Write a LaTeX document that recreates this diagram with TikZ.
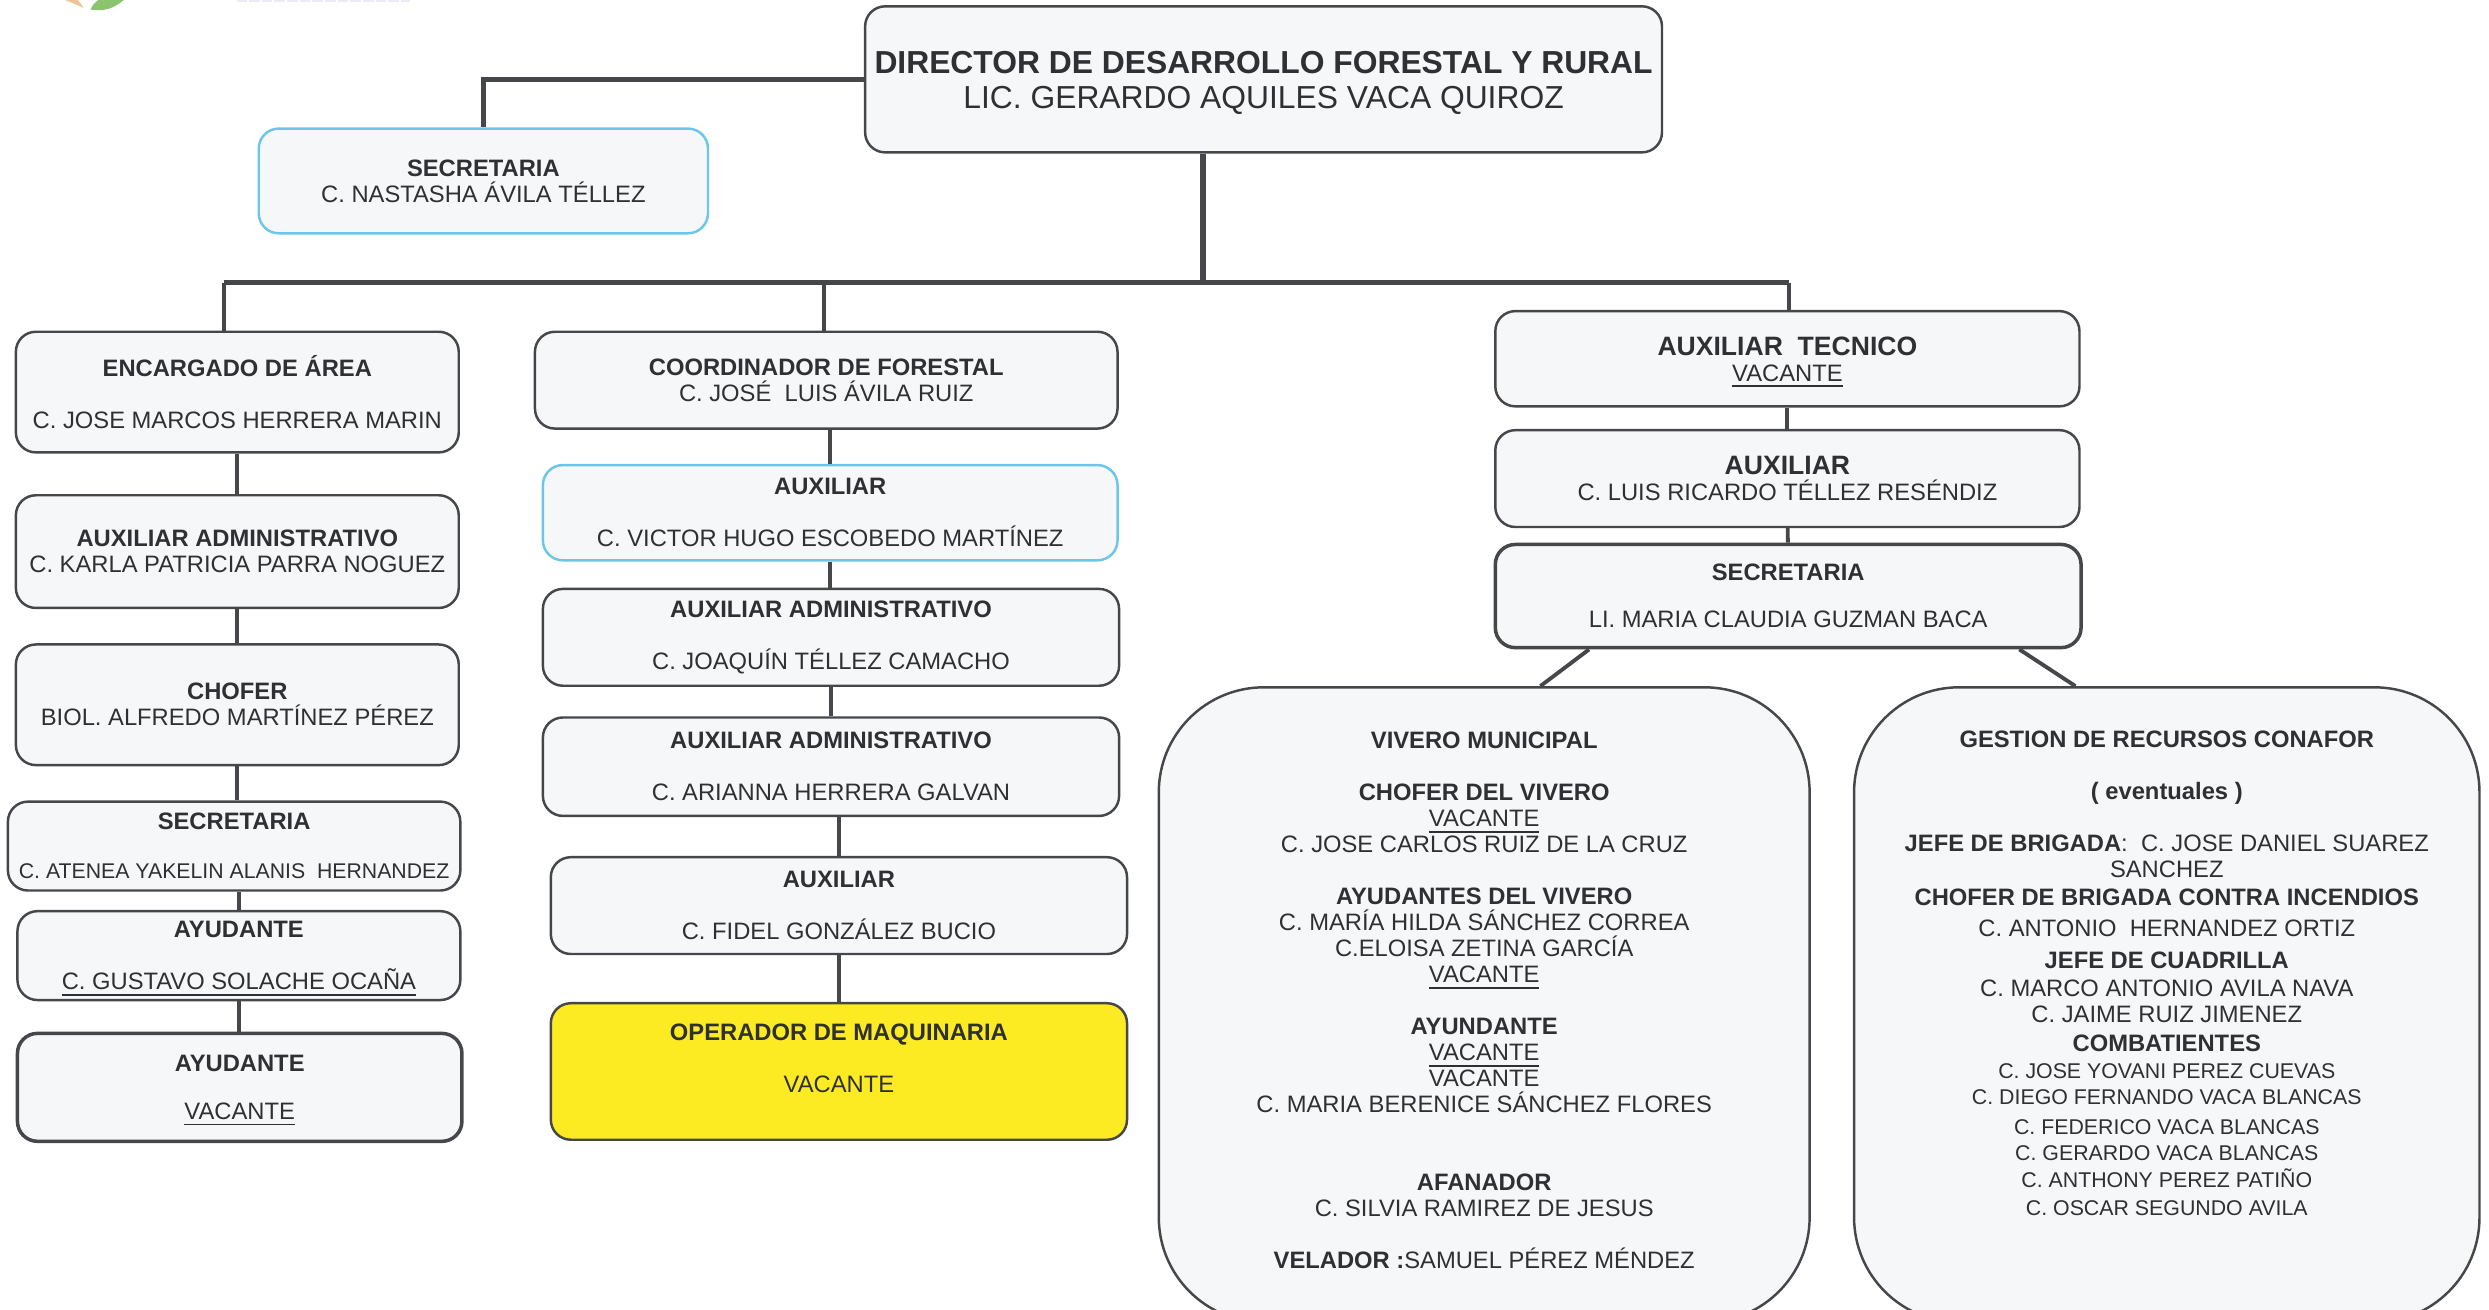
\documentclass[tikz,border=0pt]{standalone}
\usepackage{fontspec}
\setmainfont{Liberation Sans}
\usetikzlibrary{positioning}
\definecolor{inkgrey}{HTML}{2E3033}
\definecolor{linegrey}{HTML}{45474A}
\definecolor{boxgrey}{HTML}{F6F7F9}
\definecolor{skyline}{HTML}{6CC6E8}
\definecolor{vacantyellow}{HTML}{FCEB23}
\definecolor{logoorange}{HTML}{EDC49A}
\definecolor{logogreen}{HTML}{8CC46E}
\definecolor{logotext}{HTML}{ECEAF6}
\newcommand{\vac}[1]{\smash{\underline{#1}}}
\newcommand{\combat}{\fontsize{6.07}{7.4}\selectfont}

\begin{document}
\begin{tikzpicture}
		[x=0.15874mm,y=-0.15874mm,
		org box/.style 2 args={shape=rectangle,rounded corners=2mm,draw=linegrey,line width=.7pt,fill=boxgrey,
			text=inkgrey,align=center,inner sep=0pt,minimum width=#1*0.15874mm,minimum height=#2*0.15874mm,
			font=\fontsize{6.76}{7.4}\selectfont},
		blue box/.style={draw=skyline},
		heavy box/.style={line width=1pt},
		yellow box/.style={fill=vacantyellow},
		panel box/.style={rounded corners=10.5mm},
		conn/.style={draw=linegrey,line width=1.1pt},
		bus/.style={draw=linegrey,line width=1.6pt}]
		\useasboundingbox (0,0) rectangle (1568,825);
		
		% cut off logo
		\fill[logoorange] (41,0) -- (49,0) -- (53,5) -- cycle;
		\fill[logogreen] (57,6) to[bend left=15] (62,0) -- (78,0) to[bend left=25] cycle;
		\draw[logotext,line width=.5pt,dash pattern=on 3pt off .6pt] (149,.5) -- (258,.5);
		
		% top
		\node [org box={502}{92},font=\fontsize{9.05}{9.9}\selectfont] (dir) at (796,50) {\rule{0pt}{8.4pt}\textbf{DIRECTOR DE DESARROLLO FORESTAL Y RURAL}\\LIC. GERARDO AQUILES VACA QUIROZ};
		\node [org box={283}{66},blue box] (sec) at (304.5,114) {\textbf{SECRETARIA}\\C. NASTASHA ÁVILA TÉLLEZ};
		
		% left column
		\node [org box={279}{76}] (enc) at (149.5,247) {\textbf{ENCARGADO DE ÁREA}\\[7.4pt]C. JOSE MARCOS HERRERA MARIN};
		\node [org box={279}{71}] (karla) at (149.5,347.5) {\textbf{AUXILIAR ADMINISTRATIVO}\\C. KARLA PATRICIA PARRA NOGUEZ};
		\node [org box={279}{76}] (chofer) at (149.5,444) {\textbf{CHOFER}\\BIOL. ALFREDO MARTÍNEZ PÉREZ};
		\node [org box={285}{56}] (atenea) at (147.5,533) {\textbf{SECRETARIA}\\[6.5pt]{\fontsize{6.05}{7.4}\selectfont C. ATENEA YAKELIN ALANIS\ \ HERNANDEZ}};
		\node [org box={279}{56}] (gustavo) at (150.5,602) {\textbf{AYUDANTE}\\[7.4pt]\vac{C. GUSTAVO SOLACHE OCAÑA}};
		\node [org box={280}{68},heavy box] (ayuvac) at (151,685) {\textbf{AYUDANTE}\\[6pt]\vac{VACANTE}};
		
		% middle column
		\node [org box={367}{61}] (coord) at (520.5,239.5) {\textbf{COORDINADOR DE FORESTAL}\\C. JOSÉ\ \ LUIS ÁVILA RUIZ};
		\node [org box={362}{60},blue box] (victor) at (523,323) {\textbf{AUXILIAR}\\[7.4pt]C. VICTOR HUGO ESCOBEDO MARTÍNEZ};
		\node [org box={363}{61}] (joaquin) at (523.5,401.5) {\textbf{AUXILIAR ADMINISTRATIVO}\\[7.4pt]C. JOAQUÍN TÉLLEZ CAMACHO};
		\node [org box={363}{62}] (arianna) at (523.5,483) {\textbf{AUXILIAR ADMINISTRATIVO}\\[7.4pt]C. ARIANNA HERRERA GALVAN};
		\node [org box={363}{61}] (fidel) at (528.5,570.5) {\textbf{AUXILIAR}\\[7.4pt]C. FIDEL GONZÁLEZ BUCIO};
		\node [org box={363}{86},yellow box] (oper) at (528.5,675) {\textbf{OPERADOR DE MAQUINARIA}\\[7.4pt]VACANTE\\[.25pt]\mbox{}};
		
		% right column
		\node [org box={368}{60}] (tecnico) at (1126,226) {{\fontsize{7.56}{8.2}\selectfont\textbf{AUXILIAR\ \ TECNICO}}\\\vac{VACANTE}};
		\node [org box={368}{61}] (luis) at (1126,301.5) {{\fontsize{7.56}{8.2}\selectfont\textbf{AUXILIAR}}\\C. LUIS RICARDO TÉLLEZ RESÉNDIZ};
		\node [org box={369}{65},heavy box] (claudia) at (1126.5,375.5) {\textbf{SECRETARIA}\\[6pt]LI. MARIA CLAUDIA GUZMAN BACA};
		
		% panels run off the page
		\begin{scope}
		\clip (0,0) rectangle (1568,825);
		\node [org box={410}{400},panel box] (vivero) at (935,633) {\textbf{VIVERO MUNICIPAL}\\[7.4pt]
			\textbf{CHOFER DEL VIVERO}\\\vac{VACANTE}\\C. JOSE CARLOS RUIZ DE LA CRUZ\\[7.4pt]
			\textbf{AYUDANTES DEL VIVERO}\\C. MARÍA HILDA SÁNCHEZ CORREA\\C.ELOISA ZETINA GARCÍA\\\vac{VACANTE}\\[7.4pt]
			\textbf{AYUNDANTE}\\\vac{VACANTE}\\VACANTE\\C. MARIA BERENICE SÁNCHEZ FLORES\\[14.8pt]
			\textbf{AFANADOR}\\C. SILVIA RAMIREZ DE JESUS\\[7.4pt]
			\textbf{VELADOR :}SAMUEL PÉREZ MÉNDEZ\\[-5pt]\mbox{}};
		\node [org box={394}{400},panel box] (conafor) at (1365,633) {\textbf{GESTION DE RECURSOS CONAFOR}\\[7.4pt]
			\textbf{( eventuales )}\\[7.4pt]
			\textbf{JEFE DE BRIGADA}:\ \ C. JOSE DANIEL SUAREZ\\SANCHEZ\\[.45pt]
			\textbf{CHOFER DE BRIGADA CONTRA INCENDIOS}\\[1.6pt]
			C. ANTONIO\ \ HERNANDEZ ORTIZ\\[1.6pt]
			\textbf{JEFE DE CUADRILLA}\\[.7pt]
			C. MARCO ANTONIO AVILA NAVA\\C. JAIME RUIZ JIMENEZ\\[.7pt]
			\textbf{COMBATIENTES}\\[.45pt]
			{\combat C. JOSE YOVANI PEREZ CUEVAS}\\
			{\combat C. DIEGO FERNANDO VACA BLANCAS}\\[.95pt]
			{\combat C. FEDERICO VACA BLANCAS}\\
			{\combat C. GERARDO VACA BLANCAS}\\[.5pt]
			{\combat C. ANTHONY PEREZ PATIÑO}\\[.45pt]
			{\combat C. OSCAR SEGUNDO AVILA}\\[10.6pt]\mbox{}};
		\end{scope}
		
		\coordinate (hub) at (758,178);
		\coordinate (busleft) at (141,178);
		\coordinate (busmid) at (519,178);
		\coordinate (busright) at (1127,178);
		
		\draw[bus] (dir.west) -| (sec.north);
		\draw[bus] (dir.south -| hub) -- (hub);
		\draw[bus] (busleft) -- (busright);
		
		\path[conn]
		(busleft) edge (busleft |- enc.north)
		(busmid) edge (busmid |- coord.north)
		(busright) edge (busright |- tecnico.north)
		
		(karla.north) edge (karla.north |- enc.south)
		(karla.south) edge (karla.south |- chofer.north)
		(chofer.south) edge (chofer.south |- atenea.north)
		(gustavo.north) edge (gustavo.north |- atenea.south)
		(gustavo.south) edge (gustavo.south |- ayuvac.north)
		
		(victor.north) edge (victor.north |- coord.south)
		(victor.south) edge (victor.south |- joaquin.north)
		(joaquin.south) edge (joaquin.south |- arianna.north)
		(fidel.north) edge (fidel.north |- arianna.south)
		(fidel.south) edge (fidel.south |- oper.north)
		
		(tecnico) edge (luis)
		(luis) edge (claudia)
		(claudia.195) edge (vivero.80.6)
		(claudia.347.4) edge (conafor.106)
		;
		
\end{tikzpicture}
\end{document}
